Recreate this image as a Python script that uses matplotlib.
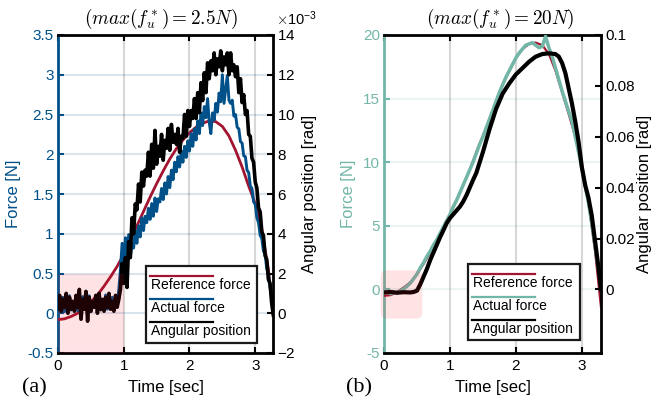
import numpy as np
import matplotlib
matplotlib.use('Agg')
import matplotlib.pyplot as plt
from matplotlib.patches import Rectangle, FancyBboxPatch
from matplotlib.lines import Line2D
from matplotlib.ticker import FuncFormatter, ScalarFormatter

plt.rcParams['font.family'] = ['Liberation Sans', 'DejaVu Sans']
plt.rcParams['mathtext.fontset'] = 'cm'
plt.rcParams['axes.unicode_minus'] = False

RED = '#A2142F'
BLUE = '#00508A'
TEAL = '#72B6A8'
PINK = (0.95, 0.1, 0.15)

# ---------------- (a) max force 2.5 N ----------------
DT_A = 0.025  # sample step of the measured traces in (a)

ref_a_t = [0.0, 0.1, 0.2, 0.3, 0.4, 0.5, 0.6, 0.7, 0.8, 0.9, 1.0, 1.1, 1.2,
           1.3, 1.4, 1.5, 1.6, 1.7, 1.8, 1.9, 2.0, 2.1, 2.2, 2.3, 2.4, 2.5,
           2.6, 2.7, 2.8, 2.9, 3.0, 3.1, 3.2, 3.27]
ref_a = [-0.08, -0.07, -0.04, 0.0, 0.06, 0.14, 0.23, 0.34, 0.46, 0.59, 0.74,
         0.92, 1.1, 1.28, 1.46, 1.63, 1.79, 1.94, 2.07, 2.18, 2.27, 2.34, 2.39,
         2.42, 2.41, 2.35, 2.23, 2.05, 1.84, 1.6, 1.38, 1.05, 0.55, 0.0]

# actual force [N]
act_a = [0.05, 0.15, 0.08, 0.2, 0.02, 0.17, 0.1, 0.22, 0.04, 0.15,
         0.09, 0.2, 0.03, 0.18, 0.11, 0.21, 0.05, 0.16, 0.08, 0.22,
         0.02, 0.14, 0.1, 0.19, 0.06, 0.2, 0.04, 0.17, 0.1, 0.23,
         0.05, 0.15, 0.09, 0.2, 0.07, 0.18, 0.12, 0.3,
         0.55, 0.88, 0.60, 0.95, 0.68, 0.99, 0.70, 0.88, 0.82, 1.04,
         0.88, 1.10, 0.96, 1.20, 1.04, 1.22, 1.14, 1.32, 1.18, 1.38,
         1.22, 1.45, 1.28, 1.44, 1.40, 1.57, 1.43, 1.64, 1.50, 1.72,
         1.58, 1.80, 1.68, 1.90, 1.78, 1.97, 1.84, 2.04, 1.90, 2.10,
         1.96, 2.17, 2.04, 2.26, 2.10, 2.32, 2.18, 2.42, 2.26, 2.52,
         2.36, 2.60, 2.46, 2.70, 2.40, 2.26, 2.52, 2.43, 2.64, 2.53,
         2.77, 2.66, 3.00, 2.64, 2.82, 2.99, 2.68, 2.64, 2.68, 2.48,
         2.50, 2.34, 2.32, 2.16, 2.14, 1.98, 1.97, 1.80, 1.77, 1.60,
         1.57, 1.40, 1.37, 1.20, 1.14, 0.98, 0.94, 0.78, 0.74, 0.56,
         0.50, 0.32, 0.22, 0.05]

# angular position [x1e-3 rad]
ang_a = [0.2, 0.9, 0.1, 0.7, 0.3, 1.0, 0.0, 0.8, 0.2, 0.6,
         0.1, 0.9, 0.3, 1.2, -0.3, 0.7, 0.2, 1.1, -0.4, 0.8,
         0.1, 0.6, 0.3, 0.9, 0.0, 1.0, 0.2, 0.7, 0.1, 0.8,
         0.3, 1.0, 0.2, 0.6, 0.1, 0.9, 0.3, 0.7,
         1.2, 2.5, 1.5, 2.8, 1.3, 3.6, 2.8, 4.8, 4.0, 5.5,
         5.2, 6.5, 5.6, 7.1, 6.4, 7.2, 6.9, 8.1, 6.9, 8.5,
         7.3, 9.2, 7.5, 8.4, 7.9, 9.0, 7.7, 8.7, 8.3, 9.3,
         8.2, 9.5, 8.6, 9.0, 8.5, 9.3, 8.1, 8.9, 8.8, 10.0,
         8.9, 10.2, 9.4, 10.2, 9.8, 10.8, 9.8, 11.1, 10.1, 11.6,
         10.7, 12.1, 11.1, 12.6, 11.8, 12.7, 12.2, 13.1, 12.0, 12.8,
         12.4, 13.2, 12.2, 12.9, 12.5, 13.1, 12.0, 13.1, 12.2, 12.5,
         11.9, 12.4, 11.1, 11.8, 10.6, 11.0, 10.0, 10.2, 9.0, 8.9,
         7.8, 7.6, 6.6, 6.3, 5.3, 5.1, 4.1, 3.9, 2.9, 2.7,
         1.7, 1.5, 0.5, -0.1]

# ---------------- (b) max force 20 N ----------------
ref_b_t = [0.0, 0.1, 0.2, 0.3, 0.4, 0.5, 0.6, 0.7, 0.8, 0.9, 1.0, 1.1, 1.2,
           1.3, 1.4, 1.5, 1.6, 1.7, 1.8, 1.9, 2.0, 2.1, 2.2, 2.3, 2.4, 2.5,
           2.6, 2.7, 2.8, 2.9, 3.0, 3.1, 3.2, 3.29]
ref_b = [-0.5, -0.45, -0.2, 0.15, 0.55, 1.2, 2.0, 2.9, 3.9, 4.9, 5.9, 7.0,
         8.2, 9.4, 10.8, 12.1, 13.4, 14.8, 16.1, 17.2, 18.2, 18.9, 19.3, 19.4,
         19.2, 18.5, 17.2, 15.5, 13.8, 12.0, 9.9, 6.8, 3.0, -1.4]

act_b_t = [0.0, 0.05, 0.1, 0.15, 0.2, 0.25, 0.3, 0.35, 0.4, 0.45, 0.5, 0.55,
           0.6, 0.65, 0.7, 0.75, 0.8, 0.85, 0.9, 0.95, 1.0, 1.05, 1.1, 1.15,
           1.2, 1.25, 1.3, 1.35, 1.4, 1.45, 1.5, 1.55, 1.6, 1.65, 1.7, 1.75,
           1.8, 1.85, 1.9, 1.95, 2.0, 2.05, 2.1, 2.15, 2.2, 2.25, 2.3, 2.35,
           2.4, 2.45, 2.5, 2.55, 2.6, 2.65, 2.7, 2.75, 2.8, 2.85, 2.9, 2.95,
           3.0, 3.05, 3.1, 3.15, 3.2, 3.25, 3.29]
act_b = [-0.3, -0.2, -0.35, -0.25, -0.3, -0.1, 0.05, 0.25, 0.5, 0.85, 1.2,
         1.7, 2.1, 2.6, 3.0, 3.5, 3.9, 4.4, 4.9, 5.4, 5.9, 6.5, 7.0, 7.6, 8.2,
         8.8, 9.4, 10.0, 10.7, 11.4, 12.0, 12.7, 13.4, 14.1, 14.8, 15.5, 16.1,
         16.7, 17.2, 17.7, 18.2, 18.6, 18.9, 19.2, 19.3, 19.4, 19.2, 19.0,
         19.1, 19.9, 19.0, 18.3, 17.4, 16.5, 15.6, 14.8, 14.0, 13.2, 12.0,
         10.8, 9.5, 8.2, 6.8, 5.2, 3.4, 1.6, 0.2]

ang_b_t = [0.0, 0.1, 0.2, 0.3, 0.4, 0.45, 0.5, 0.55, 0.6, 0.65, 0.7, 0.75,
           0.8, 0.85, 0.9, 0.95, 1.0, 1.05, 1.1, 1.15, 1.2, 1.25, 1.3, 1.35,
           1.4, 1.5, 1.6, 1.7, 1.8, 1.9, 2.0, 2.1, 2.2, 2.3, 2.4, 2.5, 2.6,
           2.65, 2.7, 2.75, 2.8, 2.85, 2.9, 2.95, 3.0, 3.05, 3.1, 3.15, 3.2,
           3.25, 3.29]
ang_b = [-0.0012, -0.0010, -0.0013, -0.0011, -0.0012, -0.0010, -0.0005,
         0.002, 0.005, 0.008, 0.0115, 0.0145, 0.0175, 0.0205, 0.0232, 0.026,
         0.028, 0.0295, 0.031, 0.0325, 0.0345, 0.037, 0.040, 0.043, 0.0458,
         0.054, 0.063, 0.071, 0.077, 0.081, 0.0845, 0.087, 0.0895, 0.0915,
         0.0925, 0.0928, 0.0925, 0.0915, 0.089, 0.085, 0.079, 0.073, 0.066,
         0.058, 0.048, 0.041, 0.036, 0.029, 0.019, 0.009, 0.0]

LEGEND_LABELS = ['Reference force', 'Actual force', 'Angular position']


def style_panel(ax, ax2, color, xmax, ylim, ylim2, yticks, yticks2):
    ax.set_xlim(0, xmax)
    ax.set_ylim(*ylim)
    ax2.set_ylim(*ylim2)
    ax.set_xticks([0, 1, 2, 3])
    ax.set_yticks(yticks)
    ax2.set_yticks(yticks2)
    ax.yaxis.set_major_formatter(FuncFormatter(lambda v, p: f'{v:g}'))
    ax.grid(axis='x', color='#262626', alpha=0.18, lw=1.5)
    ax.grid(axis='y', color=color, alpha=0.15, lw=1.5)
    ax.tick_params(axis='x', direction='in', length=4, width=1.5, top=True,
                   labelsize=11, pad=4)
    ax.tick_params(axis='y', direction='in', length=4, width=1.5,
                   colors=color, labelsize=11, pad=3)
    ax2.tick_params(axis='y', direction='in', length=4, width=1.5,
                    colors='k', labelsize=11, pad=3)
    for s in ax.spines.values():
        s.set_linewidth(2)
    ax.spines['left'].set_color(color)
    ax.spines['right'].set_visible(False)
    for side in ('left', 'top', 'bottom'):
        ax2.spines[side].set_visible(False)
    ax2.spines['right'].set_linewidth(2)
    ax.set_xlabel('Time [sec]', fontsize=12)
    ax.xaxis.set_label_coords(0.5, -0.085)


def draw_legend(fig, ax, box, colors):
    # MATLAB-style legend: each line sits above its label
    x0, y0, x1, y1 = box
    pos = ax.get_position()
    W = pos.width * fig.get_figwidth() * fig.dpi
    H = pos.height * fig.get_figheight() * fig.dpi
    ax.add_patch(Rectangle((x0, y0), x1 - x0, y1 - y0, transform=ax.transAxes,
                           fc='white', ec='#1a1a1a', lw=1.6, zorder=20,
                           clip_on=False))
    for i, (label, c) in enumerate(zip(LEGEND_LABELS, colors)):
        ly = y1 - (10 + 23 * i) / H
        ty = y1 - (19.5 + 23 * i) / H
        ax.add_line(Line2D([x0 + 4 / W, x0 + 67 / W], [ly, ly],
                           transform=ax.transAxes, color=c, lw=1.6, zorder=21))
        ax.text(x0 + 5 / W, ty, label, transform=ax.transAxes, fontsize=10,
                va='center', ha='left', zorder=21)


fig = plt.figure(figsize=(6.56, 4.01), dpi=100)

# ---- panel (a) ----
ax_a = fig.add_axes([58 / 656, 48 / 401, 215 / 656, 318 / 401])
ax_a2 = ax_a.twinx()
t_act_a = np.arange(len(act_a)) * DT_A
t_ang_a = np.arange(len(ang_a)) * DT_A
ax_a.plot(ref_a_t, ref_a, color=RED, lw=2, zorder=3)
ax_a.plot(t_act_a, act_a, color=BLUE, lw=2.1, zorder=4)
ax_a2.plot(t_ang_a, np.array(ang_a) * 1e-3, color='k', lw=2.6, zorder=3)

style_panel(ax_a, ax_a2, BLUE, 3.27, (-0.5, 3.5), (-2e-3, 14e-3),
            np.arange(-0.5, 3.51, 0.5), np.arange(-2e-3, 14.1e-3, 2e-3))
fmt = ScalarFormatter(useMathText=True)
fmt.set_powerlimits((-3, -3))
ax_a2.yaxis.set_major_formatter(fmt)
ax_a2.yaxis.get_offset_text().set_visible(False)
fig.text(276 / 656, 1 - 25 / 401, r'$\times\mathdefault{10^{-3}}$',
         fontsize=10.5, ha='left', va='baseline')
ax_a.set_ylabel('Force [N]', fontsize=12, color=BLUE)
ax_a.yaxis.set_label_coords(-0.172, 0.5)
ax_a2.set_ylabel('Angular position [rad]', fontsize=12, color='k')
ax_a2.yaxis.set_label_coords(1.135, 0.5)
ax_a.text(0.479, 1.05, r'$(max(f_u^*) = 2.5N)$', transform=ax_a.transAxes,
          ha='center', va='center', fontsize=13.8)

shade_a = Rectangle((0, -0.5), 1.0, 1.0, transform=ax_a.transData,
                    fc=PINK, ec='none', alpha=0.12, zorder=10)
ax_a2.add_patch(shade_a)
draw_legend(fig, ax_a2, (0.41, 0.031, 0.925, 0.274), [RED, BLUE, 'k'])

# ---- panel (b) ----
ax_b = fig.add_axes([384 / 656, 48 / 401, 217 / 656, 318 / 401])
ax_b2 = ax_b.twinx()
ax_b.plot(ref_b_t, ref_b, color=RED, lw=1.6, zorder=3)
ax_b.plot(act_b_t, act_b, color=TEAL, lw=2.5, zorder=4)
ax_b2.plot(ang_b_t, ang_b, color='k', lw=3, zorder=3)

style_panel(ax_b, ax_b2, TEAL, 3.29, (-5, 20), (-0.025, 0.1),
            np.arange(-5, 20.1, 5), np.arange(0, 0.101, 0.02))
ax_b2.yaxis.set_major_formatter(FuncFormatter(lambda v, p: f'{v:g}'))
ax_b.set_ylabel('Force [N]', fontsize=12, color=TEAL)
ax_b.yaxis.set_label_coords(-0.129, 0.5)
ax_b2.set_ylabel('Angular position [rad]', fontsize=12, color='k')
ax_b2.yaxis.set_label_coords(1.166, 0.5)
ax_b.text(0.535, 1.05, r'$(max(f_u^*) = 20N)$', transform=ax_b.transAxes,
          ha='center', va='center', fontsize=13.8)

# rounded shade; mutation_aspect keeps the corner round in pixel terms
shade_b = FancyBboxPatch((-0.05, -2.3), 0.63, 3.8,
                         boxstyle='round,pad=0,rounding_size=0.09',
                         mutation_aspect=5.2, transform=ax_b.transData,
                         fc=PINK, ec='none', alpha=0.12, zorder=10,
                         clip_on=False)
ax_b2.add_patch(shade_b)
draw_legend(fig, ax_b2, (0.387, 0.041, 0.903, 0.28), [RED, TEAL, 'k'])

fig.text(34 / 656, 1 - 388 / 401, '(a)', family='Liberation Serif',
         fontsize=16, ha='center', va='center')
fig.text(359 / 656, 1 - 388 / 401, '(b)', family='Liberation Serif',
         fontsize=16, ha='center', va='center')

fig.savefig('out.png', dpi=100)
